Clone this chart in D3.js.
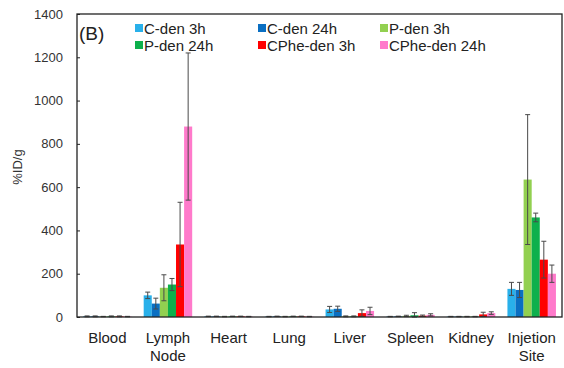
<!DOCTYPE html>
<html><head><meta charset="utf-8">
<script src="https://cdn.jsdelivr.net/npm/d3@7"></script>
<style>body{margin:0;background:#fff}svg{display:block}text{font-family:"Liberation Sans",Arial,sans-serif}</style>
</head><body><svg id="c" width="564" height="368"></svg>
<script>
const categories = [["Blood"],["Lymph","Node"],["Heart"],["Lung"],["Liver"],["Spleen"],["Kidney"],["Injetion","Site"]];
const seriesNames = ["C-den 3h","C-den 24h","P-den 3h","P-den 24h","CPhe-den 3h","CPhe-den 24h"];
const seriesColors = ["#29b0ea","#0a6fc2","#92d050","#0db04c","#ff0000","#ff7acb"];
const values = [
  [3,100,3,2,35,2,2,130],
  [3,62,3,3,38,3,2,125],
  [2,135,2,2,3,5,2,635],
  [3,150,3,3,3,8,2,460],
  [3,335,3,3,18,6,12,265],
  [2,880,2,2,28,10,18,200]
];
const errors = [
  [2,15,1,1,14,1,1,30],
  [2,25,1,1,12,1,1,35],
  [1,60,1,1,2,3,1,300],
  [2,28,1,1,2,12,1,20],
  [2,195,1,1,15,3,10,85],
  [1,340,1,1,17,5,6,40]
];
const yTicks = [0,200,400,600,800,1000,1200,1400];

const svg = d3.select("#c");
const L=77,R=562,T=14,B=317;
const x0 = d3.scaleBand().domain(d3.range(categories.length)).range([L,R]).paddingInner(0.2).paddingOuter(0.1);
const x1 = d3.scaleBand().domain(d3.range(seriesNames.length)).range([0,x0.bandwidth()]);
const y = d3.scaleLinear().domain([0,1400]).range([B,T]);

// bars
seriesNames.forEach((s,si)=>{
  const g = svg.append("g");
  g.selectAll("rect").data(values[si]).join("rect")
    .attr("x",(d,i)=>x0(i)+x1(si)).attr("width",x1.bandwidth())
    .attr("y",d=>y(d)).attr("height",d=>B-y(d)).attr("fill",seriesColors[si]);
});
// error bars
seriesNames.forEach((s,si)=>{
  const g = svg.append("g").attr("stroke","#4a4a4a").attr("stroke-width",1);
  values[si].forEach((v,i)=>{
    const cx = x0(i)+x1(si)+x1.bandwidth()/2;
    const e = errors[si][i];
    const lo = Math.max(0,v-e), hi = v+e;
    g.append("line").attr("x1",cx).attr("x2",cx).attr("y1",y(lo)).attr("y2",y(hi));
    g.append("line").attr("x1",cx-2.5).attr("x2",cx+2.5).attr("y1",y(hi)).attr("y2",y(hi));
    g.append("line").attr("x1",cx-2.5).attr("x2",cx+2.5).attr("y1",y(lo)).attr("y2",y(lo));
  });
});

// frame
svg.append("rect").attr("x",L).attr("y",T).attr("width",R-L).attr("height",B-T)
  .attr("fill","none").attr("stroke","#222").attr("stroke-width",1.3);

// y axis
const ya = svg.append("g").attr("transform",`translate(${L},0)`)
  .call(d3.axisRight(y).tickValues(yTicks).tickSize(3).tickFormat(""));
ya.select(".domain").remove();
ya.selectAll("line").attr("stroke","#222");
svg.append("g").selectAll("text").data(yTicks).join("text")
  .attr("x",63).attr("y",d=>y(d)+4.5).attr("text-anchor","end")
  .attr("font-size",13).attr("fill","#333").text(d=>d);

svg.append("text").attr("transform","translate(22,167) rotate(-90)")
  .attr("text-anchor","middle").attr("font-size",13).attr("fill","#333").text("%ID/g");

// x labels
categories.forEach((c,i)=>{
  const cx = x0(i)+x0.bandwidth()/2;
  c.forEach((line,j)=>{
    svg.append("text").attr("x",cx).attr("y",343+j*18).attr("text-anchor","middle")
      .attr("font-size",15).attr("fill","#222").text(line);
  });
});

// panel label
svg.append("text").attr("x",79).attr("y",40).attr("font-size",19).attr("fill","#222").text("(B)");

// legend
const legCols=[135,258,380], legRows=[28,45];
seriesNames.forEach((s,i)=>{
  const cx = legCols[i%3], cy = legRows[Math.floor(i/3)];
  svg.append("rect").attr("x",cx).attr("y",cy-4).attr("width",8).attr("height",8).attr("fill",seriesColors[i]);
  svg.append("text").attr("x",cx+9).attr("y",cy+5.5).attr("font-size",15).attr("fill","#222").text(s);
});
</script></body></html>
